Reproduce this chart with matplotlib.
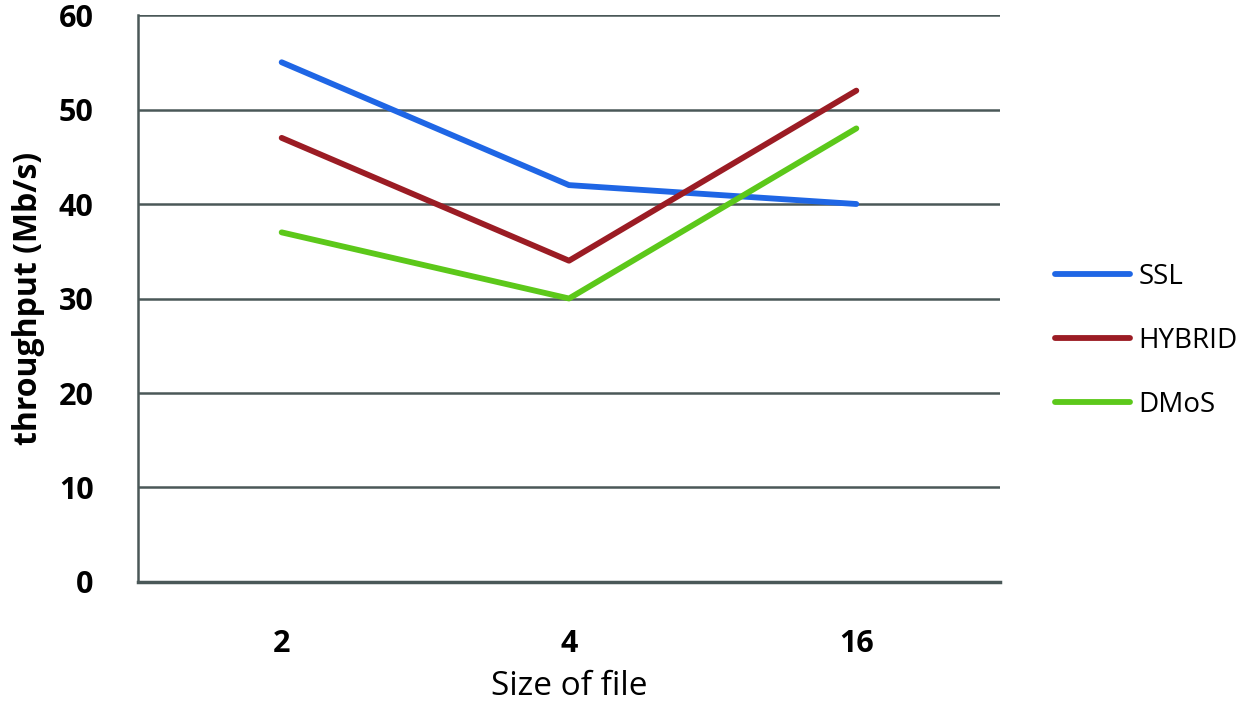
import matplotlib
matplotlib.use("Agg")
import matplotlib.pyplot as plt

# chart data
file_sizes = ["2", "4", "16"]
ssl = [55, 42, 40]
hybrid = [47, 34, 52]
dmos = [37, 30, 48]
y_ticks = [0, 10, 20, 30, 40, 50, 60]

plt.rcParams["font.family"] = ["Open Sans", "DejaVu Sans"]

fig = plt.figure(figsize=(12.5, 7.12), dpi=100)
ax = fig.add_axes([0.1104, 0.1826, 0.6896, 0.7963])

x = range(len(file_sizes))
lw = 4.2
ax.plot(x, ssl, color="#1f66e5", linewidth=lw, label="SSL", solid_capstyle="round")
ax.plot(x, hybrid, color="#9b1c24", linewidth=lw, label="HYBRID", solid_capstyle="round")
ax.plot(x, dmos, color="#5cc81a", linewidth=lw, label="DMoS", solid_capstyle="round")

ax.set_xlim(-0.5, 2.5)
ax.set_ylim(0, 60)
ax.set_yticks(y_ticks)
ax.set_xticks(list(x))
ax.set_xticklabels(file_sizes)

grid_col = "#4a5858"
for v in y_ticks[1:]:
    ax.axhline(v, color=grid_col, linewidth=1.8, zorder=0)
for side in ["top", "right"]:
    ax.spines[side].set_visible(False)
ax.spines["left"].set_color(grid_col)
ax.spines["left"].set_linewidth(1.8)
ax.spines["bottom"].set_color(grid_col)
ax.spines["bottom"].set_linewidth(2.5)

ax.tick_params(length=0)
ax.tick_params(axis="y", labelsize=22, pad=32)
ax.tick_params(axis="x", labelsize=22, pad=34)
for lbl in ax.get_xticklabels() + ax.get_yticklabels():
    lbl.set_fontweight("bold")

ax.set_ylabel("throughput (Mb/s)", fontsize=23, fontweight="bold", labelpad=10)
ax.set_xlabel("Size of file", fontsize=24, labelpad=8)

ax.legend(loc="center left", bbox_to_anchor=(1.064, 0.425), frameon=False,
          fontsize=20, handlelength=2.7, handletextpad=0.3, labelspacing=1.3,
          borderaxespad=0, borderpad=0)

fig.savefig("out.png", dpi=100)
